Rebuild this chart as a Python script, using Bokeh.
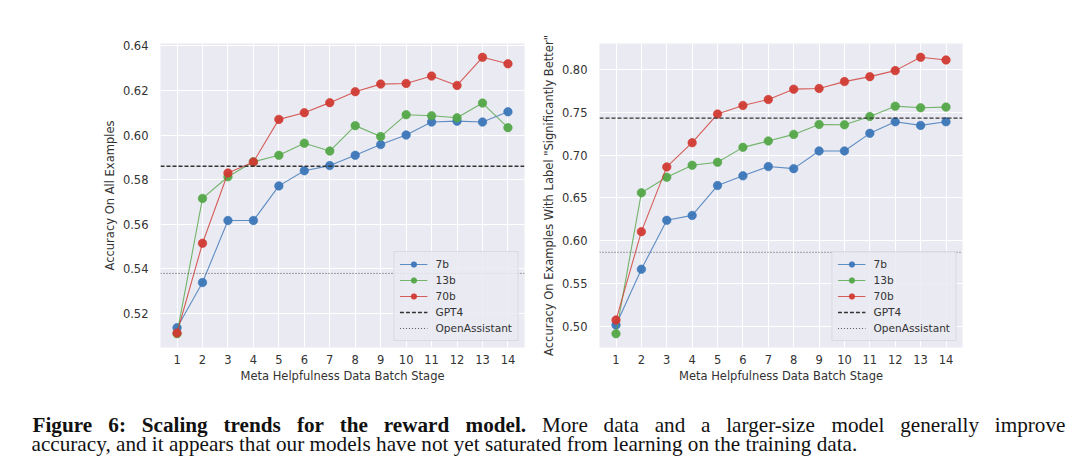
from bokeh.plotting import figure
from bokeh.models import Range1d, FixedTicker, Legend, LegendItem, Label
from bokeh.layouts import column, row
from bokeh.embed import file_html
from bokeh.resources import INLINE

# ---------------- data ----------------
stages = list(range(1, 15))
x_tick_labels = [str(s) for s in stages]

left_7b = [0.5137, 0.5339, 0.5617, 0.5617, 0.5772, 0.5840, 0.5863, 0.5909, 0.5957, 0.6000, 0.6058, 0.6062, 0.6058, 0.6104]
left_13b = [0.5110, 0.5716, 0.5813, 0.5880, 0.5909, 0.5963, 0.5928, 0.6042, 0.5993, 0.6091, 0.6086, 0.6077, 0.6143, 0.6033]
left_70b = [0.5113, 0.5515, 0.5830, 0.5879, 0.6070, 0.6100, 0.6145, 0.6194, 0.6228, 0.6231, 0.6264, 0.6222, 0.6348, 0.6319]
left_gpt4 = 0.586
left_oa = 0.538
left_yticks = [0.52, 0.54, 0.56, 0.58, 0.60, 0.62, 0.64]
left_ytick_labels = ["0.52", "0.54", "0.56", "0.58", "0.60", "0.62", "0.64"]

right_7b = [0.5020, 0.5670, 0.6240, 0.6297, 0.6645, 0.6758, 0.6866, 0.6842, 0.7048, 0.7048, 0.7253, 0.7388, 0.7346, 0.7388]
right_13b = [0.4919, 0.6560, 0.6742, 0.6881, 0.6916, 0.7090, 0.7164, 0.7241, 0.7357, 0.7353, 0.7450, 0.7570, 0.7551, 0.7559]
right_70b = [0.5078, 0.6108, 0.6862, 0.7144, 0.7478, 0.7578, 0.7647, 0.7768, 0.7776, 0.7856, 0.7914, 0.7984, 0.8139, 0.8108]
right_gpt4 = 0.7431
right_oa = 0.5867
right_yticks = [0.50, 0.55, 0.60, 0.65, 0.70, 0.75, 0.80]
right_ytick_labels = ["0.50", "0.55", "0.60", "0.65", "0.70", "0.75", "0.80"]

series_names = ["7b", "13b", "70b"]
series_colors = ["#3b76b8", "#53a647", "#d03a32"]
ref_names = ["GPT4", "OpenAssistant"]

x_label = "Meta Helpfulness Data Batch Stage"
left_ylabel = "Accuracy On All Examples"
right_ylabel = 'Accuracy On Examples With Label "Significantly Better"'

# caption (first line is justified in the reference, so it is set word by word)
caption_bold_words = ["Figure", "6:", "Scaling", "trends", "for", "the", "reward", "model."]
caption_rest_words = ["More", "data", "and", "a", "larger-size", "model", "generally", "improve"]
caption_line2 = "accuracy, and it appears that our models have not yet saturated from learning on the training data."

FONT = "DejaVu Sans"
TXT = "#333333"
BG = "#eaeaf2"

# Times (Liberation Serif) advance widths, 1/1000 em, for justifying line 1
TIMES_REG = {"a": 444, "d": 500, "e": 444, "g": 500, "i": 278, "l": 278, "m": 778,
             "n": 500, "o": 500, "p": 500, "r": 333, "s": 389, "t": 278, "v": 500,
             "y": 500, "z": 444, "M": 889, "-": 333}
TIMES_BOLD = {"F": 611, "S": 556, "6": 500, ":": 333, ".": 250, "a": 500, "c": 444,
              "d": 556, "e": 444, "f": 333, "g": 500, "h": 556, "i": 278, "l": 278,
              "m": 833, "n": 556, "o": 500, "r": 444, "s": 389, "t": 333, "u": 556,
              "w": 722}


def make_panel(ys, gpt4, oa, yticks, ytick_labels, ylabel, width, border_left, border_right):
    allv = [v for s in ys for v in s]
    lo, hi = min(allv), max(allv)
    pad = 0.05 * (hi - lo)
    xpad = 0.05 * (stages[-1] - stages[0])
    xlo, xhi = stages[0] - xpad, stages[-1] + xpad
    p = figure(width=width, height=395, output_backend="svg", toolbar_location=None,
               x_range=Range1d(xlo, xhi), y_range=Range1d(lo - pad, hi + pad),
               min_border_left=border_left, min_border_right=border_right,
               min_border_top=43, min_border_bottom=48)
    p.background_fill_color = BG
    p.border_fill_color = "white"
    p.outline_line_color = None
    p.xaxis.ticker = FixedTicker(ticks=stages)
    p.xaxis.major_label_overrides = {s: l for s, l in zip(stages, x_tick_labels)}
    p.yaxis.ticker = FixedTicker(ticks=yticks)
    p.yaxis.major_label_overrides = {t: l for t, l in zip(yticks, ytick_labels)}
    for ax in (p.xaxis, p.yaxis):
        ax.axis_line_color = None
        ax.major_tick_line_color = None
        ax.minor_tick_line_color = None
        ax.major_label_text_font = FONT
        ax.major_label_text_font_size = "11.5px"
        ax.major_label_text_color = TXT
        ax.axis_label_text_font = FONT
        ax.axis_label_text_font_size = "11.5px"
        ax.axis_label_text_font_style = "normal"
        ax.axis_label_text_color = TXT
        ax.axis_label_standoff = 3
    p.yaxis.major_label_standoff = 6
    p.xaxis.major_label_standoff = 1
    p.xaxis.axis_label_standoff = 2
    p.xaxis.axis_label = x_label
    p.yaxis.axis_label = ylabel
    p.grid.grid_line_color = "white"
    p.grid.grid_line_width = 1

    items = []
    for name, col, vals in zip(series_names, series_colors, ys):
        lr = p.line(stages, vals, line_color=col, line_width=1.1, line_alpha=0.8)
        sr = p.scatter(stages, vals, size=8.5, fill_color=col, fill_alpha=0.95,
                       line_color=col, line_alpha=0.6)
        items.append(LegendItem(label=name, renderers=[lr, sr]))

    g = p.line([xlo, xhi], [gpt4, gpt4], line_color="#333333", line_width=1.3,
               line_dash="4 2")
    o = p.line([xlo, xhi], [oa, oa], line_color="#555555", line_width=1.0,
               line_dash="1 2")
    items.append(LegendItem(label=ref_names[0], renderers=[g]))
    items.append(LegendItem(label=ref_names[1], renderers=[o]))

    legend = Legend(items=items, location="bottom_right", margin=6, padding=5,
                    spacing=2, glyph_width=28, glyph_height=14, label_height=14,
                    label_standoff=8, label_text_font=FONT,
                    label_text_font_size="10.6px", label_text_color=TXT,
                    background_fill_color=BG, background_fill_alpha=0.85,
                    border_line_color="#cccccc", border_line_width=1)
    p.add_layout(legend)
    return p


left = make_panel([left_7b, left_13b, left_70b], left_gpt4, left_oa,
                  left_yticks, left_ytick_labels, left_ylabel, 538, 160, 14)
right = make_panel([right_7b, right_13b, right_70b], right_gpt4, right_oa,
                   right_yticks, right_ytick_labels, right_ylabel, 534, 60, 110)

cap = figure(width=1072, height=70, output_backend="svg", toolbar_location=None,
             x_range=Range1d(0, 1072), y_range=Range1d(0, 70),
             min_border=0, min_border_left=0, min_border_right=0,
             min_border_top=0, min_border_bottom=0)
cap.axis.visible = False
cap.grid.visible = False
cap.outline_line_color = None
cap.background_fill_color = "white"
CF = "Liberation Serif"
CSIZE = 21.2
CS = f"{CSIZE}px"

# justify line 1 between the text block edges
line_left, line_right = 32.0, 1065.0
words = [(w, True) for w in caption_bold_words] + [(w, False) for w in caption_rest_words]
widths = [sum((TIMES_BOLD if b else TIMES_REG).get(ch, 500) for ch in w) * CSIZE / 1000.0
          for w, b in words]
gap = (line_right - line_left - sum(widths)) / (len(words) - 1)
xpos = line_left
for (w, b), wd in zip(words, widths):
    cap.add_layout(Label(x=xpos, y=41, text=w, text_font=CF, text_font_size=CS,
                         text_font_style="bold" if b else "normal",
                         text_color="#111111", text_baseline="alphabetic"))
    xpos += wd + gap
cap.add_layout(Label(x=31, y=22, text=caption_line2, text_font=CF, text_font_size=CS,
                     text_color="#111111", text_baseline="alphabetic"))

layout = column(row(left, right), cap)
open("out.html", "w").write(file_html(layout, INLINE))
